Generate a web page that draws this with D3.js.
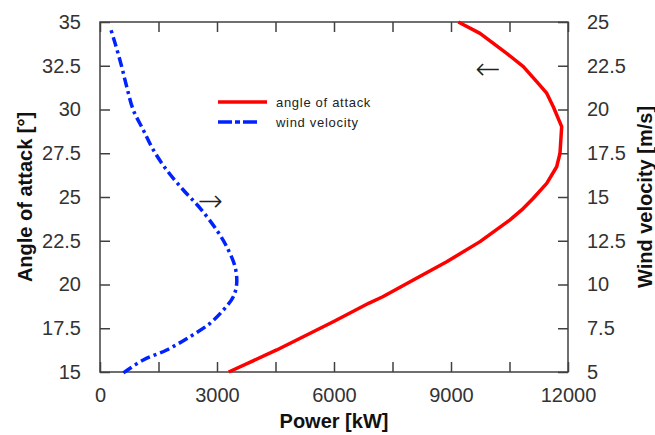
<!DOCTYPE html>
<html>
<head>
<meta charset="utf-8">
<script src="https://cdn.jsdelivr.net/npm/d3@7/dist/d3.min.js"></script>
<style>
  html, body { margin: 0; padding: 0; background: #fff; }
  svg { display: block; }
</style>
</head>
<body>
<svg id="chart" width="655" height="435"></svg>
<script>
// ---- data ----
const powerTicks = [0, 1500, 3000, 4500, 6000, 7500, 9000, 10500, 12000];
const powerTickLabels = ["0", "", "3000", "", "6000", "", "9000", "", "12000"];
const angleTicks = [15, 17.5, 20, 22.5, 25, 27.5, 30, 32.5, 35];
const windTicks = [5, 7.5, 10, 12.5, 15, 17.5, 20, 22.5, 25];

// angle of attack [deg] vs power [kW]
const aoaAngle = [15, 16.26, 17.87, 18.94, 19.3, 20.26, 21.3, 22.45, 23.69, 24.26, 24.93, 25.78, 26.73, 27.5, 29.02, 30.16, 30.93, 31.59, 32.45, 33.21, 34.35, 35];
const aoaPower = [3300, 4531, 5980, 6900, 7250, 8033, 8890, 9744, 10513, 10813, 11110, 11454, 11710, 11795, 11838, 11623, 11454, 11197, 10855, 10428, 9744, 9188];

// wind velocity [m/s] vs power [kW]
const windVel = [4.95, 5.69, 6.26, 7.02, 7.78, 8.54, 9.3, 10.07, 11.02, 12.16, 13.11, 14.37, 15.4, 16.54, 17.69, 18.83, 19.97, 21.3, 22.45, 23.8, 24.73];
const windPower = [600, 1110, 1710, 2308, 2821, 3162, 3418, 3505, 3462, 3249, 2992, 2564, 2136, 1710, 1367, 1110, 854, 685, 556, 385, 256];

const legendLabels = ["angle of attack", "wind velocity"];

// ---- layout ----
const svg = d3.select("#chart");
const L = 100, R = 568, T = 22, B = 372;
const axisColor = "#404040";
const textColor = "#333";
const font = "'Liberation Sans', Arial, sans-serif";

const x = d3.scaleLinear().domain([0, 12000]).range([L, R]);
const yA = d3.scaleLinear().domain([15, 35]).range([B, T]);
const yW = d3.scaleLinear().domain([5, 25]).range([B, T]);

// axes with inward ticks
const axB = d3.axisBottom(x).tickValues(powerTicks).tickSize(-10).tickPadding(16)
  .tickFormat((d, i) => powerTickLabels[i]);
const axT = d3.axisTop(x).tickValues(powerTicks).tickSize(-10).tickFormat("");
const axL = d3.axisLeft(yA).tickValues(angleTicks).tickSize(-10).tickPadding(19)
  .tickFormat(d => String(d));
const axR = d3.axisRight(yW).tickValues(windTicks).tickSize(-10).tickPadding(19)
  .tickFormat(d => String(d));

function style(g) {
  g.select(".domain").remove();
  g.selectAll(".tick line").attr("stroke", axisColor).attr("stroke-width", 1.5);
  g.selectAll(".tick text").attr("fill", textColor).style("font-family", font).style("font-size", "20px");
}

svg.append("g").attr("transform", `translate(0,${B})`).call(axB).call(style);
svg.append("g").attr("transform", `translate(0,${T})`).call(axT).call(style);
svg.append("g").attr("transform", `translate(${L},0)`).call(axL).call(style);
svg.append("g").attr("transform", `translate(${R},0)`).call(axR).call(style);

// frame
svg.append("rect").attr("x", L).attr("y", T).attr("width", R - L).attr("height", B - T)
  .attr("fill", "none").attr("stroke", axisColor).attr("stroke-width", 1.5);

// curves
const aoaData = aoaAngle.map((a, i) => ({ p: aoaPower[i], v: a }));
const windData = windVel.map((w, i) => ({ p: windPower[i], v: w }));

svg.append("path").datum(aoaData)
  .attr("d", d3.line().x(d => x(d.p)).y(d => yA(d.v)))
  .attr("fill", "none").attr("stroke", "#ff0000").attr("stroke-width", 3.5)
  .attr("stroke-linejoin", "round");

svg.append("path").datum(windData)
  .attr("d", d3.line().curve(d3.curveCatmullRom).x(d => x(d.p)).y(d => yW(d.v)))
  .attr("fill", "none").attr("stroke", "#0022ff").attr("stroke-width", 3.5)
  .attr("stroke-dasharray", "10,4,3,4");

// legend
const leg = svg.append("g");
[["#ff0000", null], ["#0022ff", "14,3,5,3,14"]].forEach((s, i) => {
  const yy = 102 + i * 20;
  const ln = leg.append("line").attr("x1", 218).attr("x2", 267).attr("y1", yy).attr("y2", yy)
    .attr("stroke", s[0]).attr("stroke-width", 3.5);
  if (s[1]) ln.attr("stroke-dasharray", s[1]);
  leg.append("text").attr("x", 276).attr("y", yy).attr("dy", "0.35em")
    .style("font-family", font).style("font-size", "13px").style("letter-spacing", "0.7px")
    .attr("fill", "#222").text(legendLabels[i]);
});

// arrows
svg.append("text").attr("x", 210).attr("y", 200).attr("dy", "0.35em").attr("text-anchor", "middle")
  .style("font-family", "'DejaVu Sans', sans-serif").style("font-size", "30px").style("font-weight", "200")
  .attr("fill", "#222").text("→");
svg.append("text").attr("x", 488).attr("y", 68).attr("dy", "0.35em").attr("text-anchor", "middle")
  .style("font-family", "'DejaVu Sans', sans-serif").style("font-size", "30px").style("font-weight", "200")
  .attr("fill", "#222").text("←");

// axis titles
svg.append("text").attr("x", (L + R) / 2).attr("y", 428).attr("text-anchor", "middle")
  .style("font-family", font).style("font-size", "20px").style("font-weight", "bold")
  .attr("fill", "#111").text("Power [kW]");
svg.append("text").attr("transform", `translate(32,${(T + B) / 2}) rotate(-90)`).attr("text-anchor", "middle")
  .style("font-family", font).style("font-size", "20px").style("font-weight", "bold")
  .attr("fill", "#111").text("Angle of attack [°]");
svg.append("text").attr("transform", `translate(652,${(T + B) / 2}) rotate(-90)`).attr("text-anchor", "middle")
  .style("font-family", font).style("font-size", "20px").style("font-weight", "bold")
  .attr("fill", "#111").text("Wind velocity [m/s]");
</script>
</body>
</html>
